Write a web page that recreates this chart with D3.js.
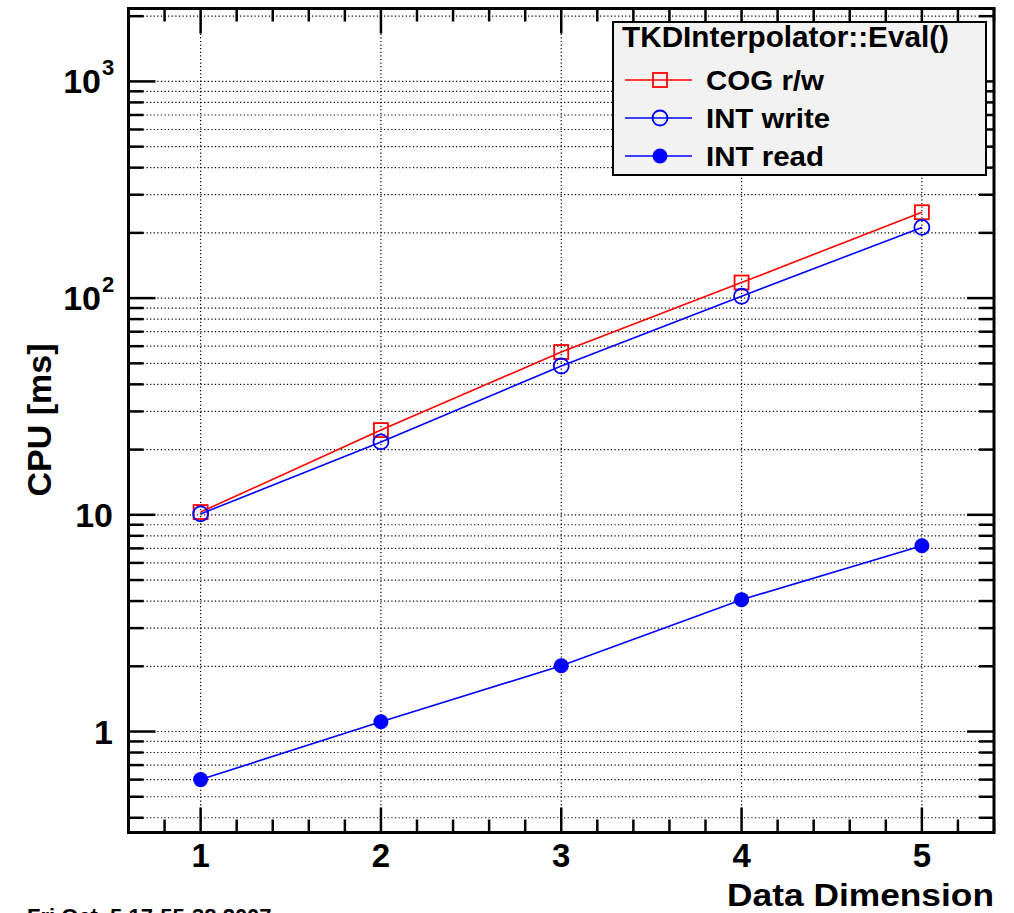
<!DOCTYPE html>
<meta charset="utf-8">
<script src="https://d3js.org/d3.v7.min.js"></script>
<style>
  body { margin: 0; background: #fff; }
  text { font-family: "Liberation Sans", Arial, Helvetica, sans-serif; font-weight: bold; white-space: pre; }
</style>
<div id="my_dataviz"></div>
<script>

// data
var dims = [1, 2, 3, 4, 5];
var cogRW = [10.3, 24.6, 56.4, 118, 249];
var intWrite = [10.1, 21.7, 48.6, 102, 212];
var intRead = [0.60, 1.11, 2.01, 4.06, 7.2];
var seriesNames = ["COG r/w", "INT write", "INT read"];
var legendTitle = "TKDInterpolator::Eval()";

var W = 1014, H = 913;
var frame = {left: 128.5, right: 994, top: 8.5, bottom: 832.5};

var svg = d3.select("#my_dataviz")
  .append("svg")
    .attr("width", W)
    .attr("height", H);

var x = d3.scaleLinear().domain([0.6, 5.4]).range([frame.left, frame.right]);
var y = d3.scaleLog().domain([0.342, 2170]).range([frame.bottom, frame.top]);

// y ticks: every 1..9 per decade
var yTicks = [];
for (var e = -1; e <= 3; e++) {
  for (var m = 1; m <= 9; m++) {
    var v = m * Math.pow(10, e);
    if (v >= y.domain()[0] && v <= y.domain()[1]) yTicks.push({v: v, major: m === 1});
  }
}
var xTicks = d3.range(0.6, 5.41, 0.2).map(function(v) {
  v = Math.round(v * 10) / 10;
  return {v: v, major: Math.abs(v - Math.round(v)) < 1e-6};
});

// grid
var grid = svg.append("g").attr("stroke", "#000").attr("stroke-width", 1.2)
  .attr("stroke-dasharray", "1.2,2.4");
grid.selectAll(".gy").data(yTicks).enter().append("line")
  .attr("x1", frame.left).attr("x2", frame.right)
  .attr("y1", function(d) { return y(d.v); }).attr("y2", function(d) { return y(d.v); });
grid.selectAll(".gx").data(dims).enter().append("line")
  .attr("x1", function(d) { return x(d); }).attr("x2", function(d) { return x(d); })
  .attr("y1", frame.top).attr("y2", frame.bottom);

// ticks on all four sides
var ticks = svg.append("g").attr("stroke", "#000").attr("stroke-width", 2.5);
ticks.selectAll(".ty").data(yTicks).enter().append("line")
  .attr("x1", frame.left).attr("x2", function(d) { return frame.left + (d.major ? 27 : 15); })
  .attr("y1", function(d) { return y(d.v); }).attr("y2", function(d) { return y(d.v); });
ticks.selectAll(".tyr").data(yTicks).enter().append("line")
  .attr("x1", frame.right).attr("x2", function(d) { return frame.right - (d.major ? 27 : 15); })
  .attr("y1", function(d) { return y(d.v); }).attr("y2", function(d) { return y(d.v); });
ticks.selectAll(".tx").data(xTicks).enter().append("line")
  .attr("x1", function(d) { return x(d.v); }).attr("x2", function(d) { return x(d.v); })
  .attr("y1", frame.bottom).attr("y2", function(d) { return frame.bottom - (d.major ? 25 : 13); });
ticks.selectAll(".txt").data(xTicks).enter().append("line")
  .attr("x1", function(d) { return x(d.v); }).attr("x2", function(d) { return x(d.v); })
  .attr("y1", frame.top).attr("y2", function(d) { return frame.top + (d.major ? 25 : 13); });

// frame
svg.append("rect")
  .attr("x", frame.left).attr("y", frame.top)
  .attr("width", frame.right - frame.left).attr("height", frame.bottom - frame.top)
  .attr("fill", "none").attr("stroke", "#000").attr("stroke-width", 3);

// tick labels
svg.selectAll(".xl").data(dims).enter().append("text")
  .attr("x", function(d) { return x(d); }).attr("y", 867)
  .attr("text-anchor", "middle").attr("font-size", 33)
  .text(function(d) { return d; });

var yLabels = [{v: 1, t: "1"}, {v: 10, t: "10"}, {v: 100, t: "10", sup: "2"}, {v: 1000, t: "10", sup: "3"}];
yLabels.forEach(function(d) {
  svg.append("text")
    .attr("x", d.sup ? 101 : 113).attr("y", y(d.v) + 12)
    .attr("text-anchor", "end").attr("font-size", 34)
    .text(d.t);
  if (d.sup) {
    svg.append("text").attr("x", 102).attr("y", y(d.v) - 6)
      .attr("font-size", 22).text(d.sup);
  }
});

// axis titles
svg.append("text")
  .attr("x", 727).attr("y", 906)
  .attr("font-size", 31)
  .attr("textLength", 267).attr("lengthAdjust", "spacingAndGlyphs")
  .text("Data Dimension");
svg.append("text")
  .attr("transform", "translate(51,420) rotate(-90)")
  .attr("text-anchor", "middle").attr("font-size", 34)
  .text("CPU [ms]");

// date stamp (cut off at bottom, as in the original)
svg.append("text")
  .attr("x", 27).attr("y", 924).attr("font-size", 22)
  .text("Fri Oct  5 17:55:38 2007");

// series
var series = [
  {name: seriesNames[0], values: cogRW, color: "#ff0000", marker: "square", w: 118},
  {name: seriesNames[1], values: intWrite, color: "#0000ff", marker: "circle", w: 124},
  {name: seriesNames[2], values: intRead, color: "#0000ff", marker: "dot", w: 118}
];

var line = d3.line()
  .x(function(d, i) { return x(dims[i]); })
  .y(function(d) { return y(d); });

function drawMarker(g, kind, color) {
  if (kind === "square") {
    g.append("rect").attr("x", -7).attr("y", -7).attr("width", 14).attr("height", 14)
      .attr("fill", "none").attr("stroke", color).attr("stroke-width", 1.8);
  } else if (kind === "circle") {
    g.append("circle").attr("r", 7.5)
      .attr("fill", "none").attr("stroke", color).attr("stroke-width", 1.8);
  } else {
    g.append("circle").attr("r", 7.5).attr("fill", color);
  }
}

series.forEach(function(s) {
  svg.append("path").datum(s.values)
    .attr("d", line).attr("fill", "none")
    .attr("stroke", s.color).attr("stroke-width", 1.6);
  s.values.forEach(function(v, i) {
    var g = svg.append("g").attr("transform", "translate(" + x(dims[i]) + "," + y(v) + ")");
    drawMarker(g, s.marker, s.color);
  });
});

// legend
var lg = svg.append("g");
lg.append("rect")
  .attr("x", 613).attr("y", 22).attr("width", 373).attr("height", 153)
  .attr("fill", "#f2f2f2").attr("stroke", "#000").attr("stroke-width", 2);
lg.append("text").attr("x", 622).attr("y", 47).attr("font-size", 29)
  .attr("textLength", 327).attr("lengthAdjust", "spacingAndGlyphs")
  .text(legendTitle);
series.forEach(function(s, i) {
  var yy = 80 + i * 38;
  lg.append("line").attr("x1", 625).attr("x2", 692).attr("y1", yy).attr("y2", yy)
    .attr("stroke", s.color).attr("stroke-width", 1.6);
  drawMarker(lg.append("g").attr("transform", "translate(660," + yy + ")"), s.marker, s.color);
  lg.append("text").attr("x", 706).attr("y", yy + 10).attr("font-size", 28)
    .attr("textLength", s.w).attr("lengthAdjust", "spacingAndGlyphs")
    .text(s.name);
});

</script>
